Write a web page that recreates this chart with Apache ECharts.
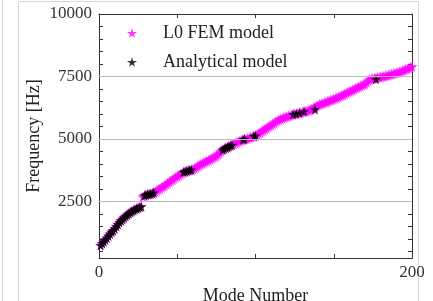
<!DOCTYPE html>
<html>
<head>
<meta charset="utf-8">
<script src="https://cdn.jsdelivr.net/npm/echarts@6/dist/echarts.min.js"></script>
<style>
  html, body { margin: 0; padding: 0; background: #fff; }
  #chart { width: 433px; height: 301px; }
</style>
</head>
<body>
<div id="chart"></div>
<script>
// L0 FEM model, frequency [Hz] for mode 1..200
const femFreq = [
  760, 830, 900, 980, 1050, 1140, 1220, 1290, 1350, 1430,
  1520, 1600, 1680, 1750, 1810, 1860, 1920, 1980, 2030, 2080,
  2120, 2160, 2200, 2230, 2260, 2290, 2320, 2690, 2730, 2760,
  2780, 2790, 2800, 2820, 2850, 2890, 2940, 2980, 3020, 3060,
  3100, 3140, 3190, 3240, 3280, 3330, 3370, 3420, 3470, 3510,
  3550, 3590, 3630, 3670, 3700, 3720, 3740, 3750, 3770, 3790,
  3830, 3870, 3910, 3950, 3990, 4020, 4060, 4090, 4120, 4150,
  4190, 4220, 4260, 4290, 4330, 4380, 4440, 4510, 4570, 4620,
  4650, 4680, 4710, 4740, 4770, 4800, 4840, 4870, 4900, 4930,
  4950, 4970, 4990, 5010, 5030, 5050, 5070, 5090, 5110, 5140,
  5180, 5220, 5260, 5310, 5350, 5390, 5430, 5480, 5520, 5560,
  5600, 5640, 5690, 5730, 5770, 5800, 5830, 5860, 5880, 5900,
  5920, 5940, 5960, 5980, 6000, 6020, 6030, 6050, 6060, 6080,
  6100, 6110, 6130, 6150, 6170, 6200, 6240, 6280, 6320, 6360,
  6390, 6410, 6430, 6460, 6480, 6500, 6530, 6550, 6580, 6600,
  6630, 6650, 6680, 6710, 6740, 6770, 6800, 6840, 6870, 6900,
  6930, 6960, 6990, 7030, 7060, 7090, 7120, 7150, 7170, 7200,
  7260, 7330, 7380, 7400, 7420, 7430, 7440, 7460, 7470, 7480,
  7500, 7510, 7530, 7540, 7560, 7580, 7600, 7610, 7630, 7650,
  7670, 7690, 7710, 7740, 7760, 7790, 7810, 7840, 7870, 7900
]

// analytical model, only some modes
const anaModes = [
  1, 2, 3, 4, 5, 6, 7, 8, 9, 10, 11, 12, 13, 14, 15, 16, 17, 18, 19, 20,
  21, 22, 23, 24, 25, 26, 27,
  29, 30, 31, 32, 33, 34, 35,
  54, 55, 56, 57, 58, 59,
  79, 80, 81, 82, 83, 84, 85,
  92, 93, 99, 100,
  124, 126, 128, 131, 138, 177
]
const anaFreq = [
  740, 820, 890, 970, 1040, 1120, 1200, 1280, 1330, 1410, 1500, 1580, 1660, 1730, 1790, 1850, 1910, 1960, 2010, 2060,
  2100, 2140, 2180, 2210, 2240, 2270, 2290,
  2740, 2770, 2790, 2800, 2810, 2830, 2860,
  3680, 3700, 3720, 3740, 3760, 3770,
  4560, 4610, 4640, 4670, 4700, 4730, 4760,
  4980, 5000, 5110, 5130,
  5990, 6010, 6040, 6100, 6180, 7390
]

const yLabels = [2500, 5000, 7500, 10000]
const yTicks = [500, 1000, 1500, 2000, 2500, 3000, 3500, 4000, 4500, 5000,
  5500, 6000, 6500, 7000, 7500, 8000, 8500, 9000, 9500, 10000]
const gridLines = [2500, 5000, 7500]

const star = 'path://M50,0 L61,35 L98,35 L68,57 L79,91 L50,70 L21,91 L32,57 L2,35 L39,35 Z'
const font = 'Liberation Serif'

let chart = echarts.init(document.getElementById('chart'), null, { renderer: 'canvas' })

let femData = femFreq.map((f, i) => [i + 1, f])
let anaData = anaModes.map((m, i) => [m, anaFreq[i]])

const axisLine = { show: true, onZero: false, lineStyle: { color: '#333', width: 1 } }
const tick = { inside: true, length: 4, lineStyle: { color: '#333' } }

// y tick labels are drawn as labels of the horizontal grid lines
// (the top one sits on the frame, its line is kept invisible)
let yLabelLines = yLabels.map(v => ({
  yAxis: v,
  lineStyle: { color: gridLines.includes(v) ? '#bbb' : 'rgba(0,0,0,0)' }
}))

chart.setOption({
  animation: false,
  backgroundColor: '#fff',
  graphic: [
    { type: 'rect', shape: { x: 18.5, y: 1.5, width: 400, height: 305 }, style: { fill: 'none', stroke: '#d8d8d8', lineWidth: 1 }, silent: true },
    { type: 'line', shape: { x1: 2.5, y1: 0, x2: 2.5, y2: 301 }, style: { stroke: '#d8d8d8', lineWidth: 1 }, silent: true }
  ],
  grid: { left: 99, right: 21, top: 14, bottom: 43, outerBoundsMode: 'none' },
  legend: {
    orient: 'vertical',
    left: 122,
    top: 19,
    itemWidth: 10,
    itemHeight: 10,
    itemGap: 11,
    textStyle: { fontFamily: font, fontSize: 18, color: '#222', padding: [0, 0, 0, 21] },
    data: [
      { name: 'L0 FEM model', icon: star, itemStyle: { color: '#ff00ff' } },
      { name: 'Analytical model', icon: star, itemStyle: { color: '#000' } }
    ]
  },
  xAxis: [
    {
      type: 'value', min: 0, max: 200, interval: 50, position: 'bottom',
      axisLine: axisLine,
      axisTick: tick,
      axisLabel: {
        fontFamily: font, fontSize: 17, color: '#333', margin: 6,
        formatter: v => (v === 0 || v === 200) ? String(v) : ''
      },
      splitLine: { show: false },
      name: 'Mode Number', nameLocation: 'middle', nameGap: 29,
      nameTextStyle: { fontFamily: font, fontSize: 18, color: '#222' }
    },
    {
      type: 'value', min: 0, max: 200, interval: 50, position: 'top',
      axisLine: axisLine,
      axisTick: tick,
      axisLabel: { show: false },
      splitLine: { show: false }
    }
  ],
  yAxis: [
    {
      type: 'value', min: 240, max: 10000, position: 'left',
      axisLine: axisLine,
      axisTick: Object.assign({ customValues: yTicks }, tick),
      axisLabel: { show: false },
      splitLine: { show: false },
      name: 'Frequency [Hz]', nameLocation: 'middle', nameGap: 56,
      nameTextStyle: { fontFamily: font, fontSize: 18, color: '#222' }
    },
    {
      type: 'value', min: 240, max: 10000, position: 'right',
      axisLine: axisLine,
      axisTick: Object.assign({ customValues: yTicks }, tick),
      axisLabel: { show: false },
      splitLine: { show: false }
    }
  ],
  series: [
    {
      name: 'grid', type: 'line', data: [], z: 1, silent: true,
      markLine: {
        silent: true, symbol: 'none',
        label: {
          show: true, position: 'start', distance: 7,
          fontFamily: font, fontSize: 17, color: '#333',
          formatter: p => String(p.value)
        },
        lineStyle: { color: '#bbb', width: 1, type: 'solid' },
        data: yLabelLines
      }
    },
    {
      name: 'L0 FEM model', type: 'scatter', data: femData, z: 2,
      symbol: star, symbolSize: 11, itemStyle: { color: '#ff00ff' }
    },
    {
      name: 'Analytical model', type: 'scatter', data: anaData, z: 3,
      symbol: star, symbolSize: 10, itemStyle: { color: '#000' }
    }
  ]
})
</script>
</body>
</html>
